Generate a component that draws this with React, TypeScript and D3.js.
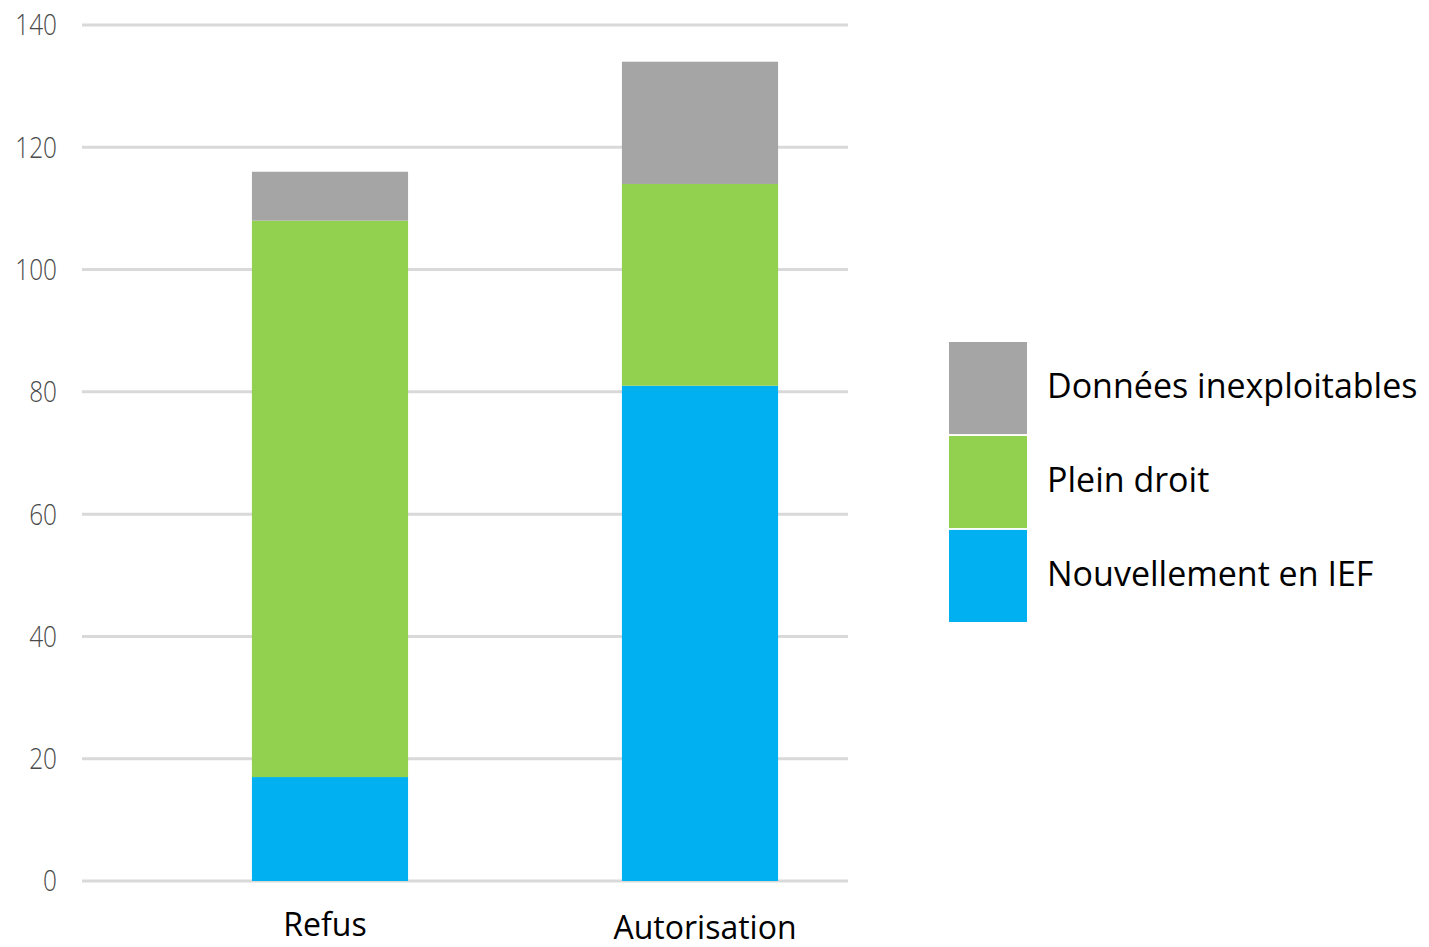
import React, { useRef, useEffect } from 'react';
import * as d3 from 'd3';

const categories = ['Refus', 'Autorisation'];
const seriesNames = ['Nouvellement en IEF', 'Plein droit', 'Données inexploitables'];
const nouvellementValues = [17, 81];
const pleinDroitValues = [91, 33];
const inexploitablesValues = [8, 20];
const yTicks = [0, 20, 40, 60, 80, 100, 120, 140];
const seriesColors = ['#00B0F0', '#92D050', '#A5A5A5'];

const App: React.FC = () => {
  const svgRef = useRef<SVGSVGElement>(null);

  useEffect(() => {
    if (!svgRef.current) return;

    const svg = d3.select(svgRef.current);
    svg.selectAll('*').remove();

    const rows = categories.map((c, i) => ({
      category: c,
      [seriesNames[0]]: nouvellementValues[i],
      [seriesNames[1]]: pleinDroitValues[i],
      [seriesNames[2]]: inexploitablesValues[i],
    }));
    const stacked = d3.stack<any>().keys(seriesNames)(rows);

    const y = d3.scaleLinear().domain([0, 140]).range([881, 25]);
    const x = d3.scaleBand().domain(categories).range([145, 885]).paddingInner(0.578).paddingOuter(0.289);
    const color = d3.scaleOrdinal<string, string>().domain(seriesNames).range(seriesColors);

    // grid lines
    svg.append('g')
      .selectAll('line')
      .data(yTicks)
      .enter()
      .append('line')
      .attr('x1', 82)
      .attr('x2', 848)
      .attr('y1', d => y(d))
      .attr('y2', d => y(d))
      .style('stroke', '#D9D9D9')
      .style('stroke-width', 3);

    // tick labels (narrowed a bit, the original font is condensed)
    svg.append('g')
      .selectAll('text')
      .data(yTicks)
      .enter()
      .append('text')
      .attr('transform', d => `translate(57,${y(d)}) scale(0.84,1)`)
      .attr('dy', '0.36em')
      .attr('text-anchor', 'end')
      .style('font-family', '"Open Sans", sans-serif')
      .style('font-weight', 300)
      .style('font-size', '29px')
      .style('fill', '#4a4a4a')
      .text(d => d);

    // bars
    stacked.forEach(layer => {
      svg.append('g')
        .selectAll('rect')
        .data(layer)
        .enter()
        .append('rect')
        .attr('x', d => x(d.data.category) as number)
        .attr('width', x.bandwidth())
        .attr('y', d => y(d[1]))
        .attr('height', d => y(d[0]) - y(d[1]))
        .style('fill', color(layer.key));
    });

    // category labels
    const labelDx = [-5, 5];
    const labelDy = [0, 3];
    svg.append('g')
      .selectAll('text')
      .data(categories)
      .enter()
      .append('text')
      .attr('x', (d, i) => (x(d) as number) + x.bandwidth() / 2 + labelDx[i])
      .attr('y', (d, i) => 936 + labelDy[i])
      .attr('text-anchor', 'middle')
      .style('font-family', '"Open Sans", sans-serif')
      .style('font-size', '32px')
      .style('fill', '#000')
      .text(d => d);

    // legend
    const legendOrder = seriesNames.slice().reverse();
    const ly = d3.scaleBand().domain(legendOrder).range([342, 622]).paddingInner(0.02);
    const legend = svg.append('g');
    legend.selectAll('rect')
      .data(legendOrder)
      .enter()
      .append('rect')
      .attr('x', 949)
      .attr('width', 78)
      .attr('y', d => ly(d) as number)
      .attr('height', ly.bandwidth())
      .style('fill', d => color(d));
    legend.selectAll('text')
      .data(legendOrder)
      .enter()
      .append('text')
      .attr('x', 1047)
      .attr('y', d => (ly(d) as number) + ly.bandwidth() / 2 - 2)
      .attr('dy', '0.36em')
      .style('font-family', '"Open Sans", sans-serif')
      .style('font-size', '34px')
      .style('fill', '#000')
      .text(d => d);
  }, []);

  return (
    <svg
      ref={svgRef}
      width={1429}
      height={947}
      style={{ position: 'absolute', top: 0, left: 0, background: '#fff' }}
    />
  );
};

export default App;
